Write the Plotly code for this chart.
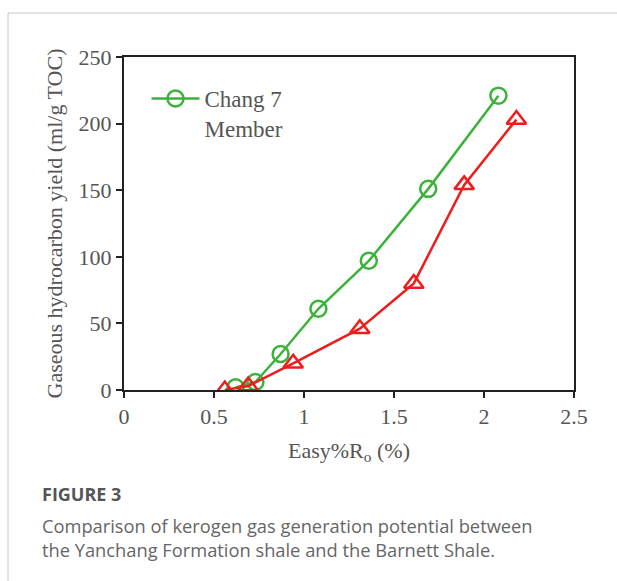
import plotly.graph_objects as go

# Data
chang7_x = [0.62, 0.73, 0.87, 1.08, 1.36, 1.69, 2.08]
chang7_y = [2, 6, 27, 61, 97, 151, 221]
barnett_x = [0.56, 0.69, 0.94, 1.31, 1.61, 1.89, 2.18]
barnett_y = [0, 3, 20, 46, 80, 154, 203]

x_ticks = [0, 0.5, 1, 1.5, 2, 2.5]
x_tick_labels = ["0", "0.5", "1", "1.5", "2", "2.5"]
y_ticks = [0, 50, 100, 150, 200, 250]

W, H = 617, 581
ML, MR, MT, MB = 124, 43, 57, 191
PW = W - ML - MR
PH = H - MT - MB


def px(xp):
    return (xp - ML) / PW


def py(yp):
    return (H - MB - yp) / PH


GREEN = "#3db23a"
RED = "#ee1c1c"
TXT = "#555555"
SERIF = "Liberation Serif, Times New Roman, serif"
SANS = "Open Sans, Noto Sans, sans-serif"

fig = go.Figure()
fig.add_trace(go.Scatter(
    x=chang7_x, y=chang7_y, mode="lines+markers", name="Chang 7<br>Member",
    line=dict(color=GREEN, width=2.5),
    marker=dict(symbol="circle-open", size=16, color=GREEN, line=dict(width=2.5)),
))
fig.add_trace(go.Scatter(
    x=barnett_x, y=barnett_y, mode="lines+markers", name="Barnett Shale",
    showlegend=False,
    line=dict(color=RED, width=2.5),
    marker=dict(symbol="triangle-up-open", size=17, color=RED, line=dict(width=2.5)),
))

axis_common = dict(
    showline=True, linecolor="#222222", linewidth=2, mirror=True,
    ticks="outside", ticklen=6, tickwidth=2, tickcolor="#222222",
    showgrid=False, zeroline=False,
    tickfont=dict(family=SERIF, size=22, color=TXT),
)

fig.update_layout(
    width=W, height=H,
    margin=dict(l=ML, r=MR, t=MT, b=MB),
    paper_bgcolor="white", plot_bgcolor="white",
    xaxis=dict(range=[0, 2.5], tickvals=x_ticks, ticktext=x_tick_labels,
               title=dict(text="Easy%R<sub>o</sub> (%)", font=dict(family=SERIF, size=22, color=TXT), standoff=14),
               **axis_common),
    yaxis=dict(range=[0, 250], tickvals=y_ticks,
               title=dict(text="Gaseous hydrocarbon yield (ml/g TOC)", font=dict(family=SERIF, size=22, color=TXT), standoff=10),
               **axis_common),
    legend=dict(x=0.05, y=0.94, xanchor="left", yanchor="top", valign="top",
                bgcolor="rgba(0,0,0,0)", font=dict(family=SERIF, size=23, color=TXT),
                itemwidth=48),
    showlegend=True,
)

# Card border
fig.add_shape(type="line", xref="paper", yref="paper", x0=px(8), x1=px(W + 5), y0=py(13), y1=py(13),
              line=dict(color="#c8c8c8", width=1))
fig.add_shape(type="line", xref="paper", yref="paper", x0=px(8), x1=px(8), y0=py(13), y1=py(H + 5),
              line=dict(color="#c8c8c8", width=1))

fig.add_annotation(xref="paper", yref="paper", x=px(40), y=py(494), xanchor="left", yanchor="middle",
                   text="<b>FIGURE 3</b>", showarrow=False,
                   font=dict(family=SANS, size=18, color="#555555"))
fig.add_annotation(xref="paper", yref="paper", x=px(40), y=py(537), xanchor="left", yanchor="middle",
                   align="left",
                   text="Comparison of kerogen gas generation potential between<br>the Yanchang Formation shale and the Barnett Shale.",
                   showarrow=False,
                   font=dict(family=SANS, size=18.3, color="#666666"))

fig.write_html("out.html")
